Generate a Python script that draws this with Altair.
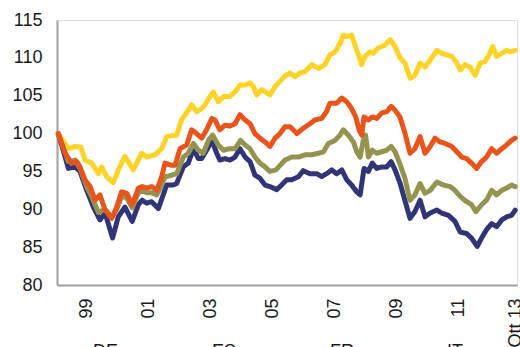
import altair as alt
import pandas as pd

# ---- data (month index 0 = Jan 1999) ----
series_names = ["DE", "ES", "FR", "IT"]
series_colors = ["#2F3577", "#FFD326", "#949450", "#E9541A"]

de_months = [0, 3.9, 6.5, 8.4, 11.0, 13.6, 16.1, 18.1, 21.0, 23.2, 25.8, 28.6, 31.0, 32.5, 34.2, 36.1, 38.7, 40.6, 41.9, 44.5,
             45.8, 48.4, 50.3, 52.3, 54.2, 55.5, 57.4, 59.4, 61.3, 62.5, 64.5, 66.4, 68.4, 70.3, 72.3, 74.2, 76.1, 78.0, 80.0, 81.9, 84.5, 86.4, 88.4,
             90.3, 92.9, 94.8, 97.4, 100.0, 101.9, 103.8, 105.8, 107.7, 109.7, 111.6, 113.5, 115.5, 116.8, 118.3, 120.0, 121.5, 123.2, 125.1, 127.1, 128.8, 130.3, 132.2,
             134.2, 136.1, 138.0, 140.0, 141.9, 143.9, 146.5, 148.4, 151.0, 153.5, 155.5, 158.0, 159.9, 162.1, 163.8, 165.7, 167.7, 169.6, 171.6, 173.5, 175.4, 176.8]
de_values = [100, 95.4, 95.6, 95.0, 92.5, 90.3, 88.6, 89.5, 86.2, 89.0, 90.3, 88.4, 90.6, 91.2, 90.8, 91.0, 90.1, 91.9, 93.2, 93.2,
             93.4, 95.6, 96.1, 98.0, 96.7, 96.7, 97.8, 99.1, 97.4, 96.5, 96.7, 96.5, 96.9, 98.0, 96.9, 96.3, 94.5, 94.1, 93.2, 93.0, 92.6, 93.2, 93.9,
             93.9, 94.3, 95.1, 94.7, 94.7, 94.3, 94.7, 95.2, 94.7, 95.2, 93.9, 93.2, 92.3, 91.9, 95.4, 95.0, 96.1, 95.4, 95.6, 95.6, 96.3, 95.2, 93.5,
             91.1, 88.8, 89.7, 91.2, 89.0, 89.5, 89.9, 89.5, 89.2, 88.4, 87.0, 86.8, 86.2, 85.1, 86.2, 87.3, 88.1, 87.7, 88.6, 89.0, 89.2, 89.9]

es_months = [0, 3.9, 6.5, 8.8, 10.3, 12.9, 15.5, 16.8, 18.7, 21.3, 23.2, 25.8, 29.0, 32.3, 34.2, 37.4, 40.0, 42.0,
             45.8, 47.7, 50.3, 51.6, 53.5, 55.5, 56.8, 58.7, 60.0, 61.9, 63.9, 66.4, 68.4, 70.3, 72.3, 74.2, 75.5, 76.8, 78.7, 81.9, 83.9, 85.8, 87.7,
             89.7, 91.6, 93.5, 95.5, 98.1, 100.6, 103.2, 105.1, 107.1, 109.0, 110.3, 111.6, 113.5, 115.5, 117.4, 118.7, 120.6, 121.9, 123.8, 126.4, 128.4, 130.3, 132.2,
             134.2, 136.1, 138.0, 140.0, 141.9, 143.9, 146.5, 148.4, 150.3, 152.3, 154.2, 155.5, 157.4, 159.3, 161.3, 163.2, 165.1, 166.4, 168.1, 169.6, 171.6, 173.5, 174.8, 176.8]
es_values = [100, 98.0, 98.3, 98.2, 96.5, 96.1, 94.7, 95.6, 94.3, 93.5, 95.2, 97.0, 95.2, 97.4, 96.9, 97.2, 98.0, 99.6,
             99.8, 101.8, 103.1, 103.8, 102.9, 103.3, 103.8, 104.9, 105.5, 104.2, 104.9, 104.9, 105.5, 106.4, 106.4, 106.7, 106.2, 105.1, 105.8, 105.1, 106.2, 106.9, 107.6,
             108.0, 107.5, 108.0, 108.2, 109.1, 108.6, 109.1, 110.4, 110.8, 111.9, 113.0, 112.8, 113.0, 111.0, 109.1, 110.2, 110.8, 110.6, 111.3, 111.7, 112.4, 111.5, 110.0,
             109.3, 107.3, 107.7, 109.3, 108.8, 109.7, 111.0, 110.6, 110.4, 110.2, 109.3, 108.4, 109.1, 108.8, 107.7, 109.3, 109.5, 110.2, 111.5, 110.2, 110.6, 111.0, 110.8, 111.0]

fr_months = [0, 3.9, 6.5, 8.4, 11.0, 12.9, 15.5, 18.1, 20.7, 22.6, 24.5, 26.5, 28.6, 31.0, 32.5, 34.2, 36.1, 38.1, 40.0, 41.3, 43.9,
             45.8, 48.4, 50.3, 52.3, 54.2, 56.1, 58.1, 59.7, 61.9, 63.9, 66.1, 68.4, 70.5, 72.3, 74.2, 76.1, 78.0, 80.0, 81.9, 84.2, 85.8, 87.7,
             90.3, 92.9, 95.5, 98.1, 100.6, 102.6, 104.5, 107.1, 109.0, 110.3, 112.2, 114.2, 115.5, 116.8, 118.0, 118.9, 120.0, 121.5, 123.2, 125.1, 127.1, 128.8, 130.3, 132.2,
             134.2, 136.1, 138.0, 140.0, 141.9, 143.9, 146.5, 149.0, 151.6, 153.5, 155.5, 158.0, 159.9, 161.6, 163.8, 165.7, 167.7, 169.6, 171.6, 173.5, 175.4, 176.8]
fr_values = [100, 96.3, 96.5, 95.4, 93.0, 91.7, 89.6, 90.0, 88.9, 90.0, 91.7, 91.5, 90.2, 92.2, 92.4, 92.2, 92.2, 91.9, 93.2, 94.3, 94.5,
             94.7, 96.9, 97.4, 98.7, 97.8, 97.4, 99.1, 99.8, 98.5, 97.8, 98.0, 98.0, 99.1, 98.5, 98.0, 96.9, 96.1, 95.6, 95.0, 95.2, 95.8, 96.5,
             96.9, 96.9, 97.2, 97.2, 97.4, 97.6, 98.7, 99.1, 99.8, 100.5, 99.8, 98.9, 97.6, 96.9, 99.1, 99.8, 96.9, 97.8, 97.4, 97.6, 97.8, 98.3, 97.6, 96.0,
             94.0, 91.2, 91.9, 93.4, 92.1, 92.5, 93.6, 93.2, 93.0, 92.5, 91.7, 91.0, 90.6, 89.7, 90.6, 91.2, 92.5, 91.9, 92.5, 92.8, 93.2, 93.0]

it_months = [0, 2.6, 5.2, 7.1, 8.4, 10.3, 12.3, 14.2, 16.1, 18.1, 20.7, 22.6, 24.5, 26.5, 28.6, 31.0, 32.5, 34.2, 36.1, 38.1, 40.0, 41.3, 43.9,
             45.2, 47.1, 49.7, 51.6, 53.5, 55.5, 57.4, 59.4, 60.6, 62.5, 64.5, 66.4, 68.4, 70.3, 72.3, 74.2, 76.1, 78.0, 80.0, 81.9, 83.9, 85.8, 87.7,
             89.7, 92.3, 94.8, 97.4, 99.3, 101.9, 103.8, 105.1, 107.7, 109.7, 111.6, 113.5, 115.1, 116.4, 117.4, 118.3, 120.0, 121.5, 123.2, 125.1, 127.1, 128.8, 130.3, 132.2,
             134.2, 136.1, 138.0, 140.0, 141.9, 143.9, 145.8, 147.7, 149.7, 152.3, 154.2, 156.1, 158.0, 159.9, 161.9, 163.8, 165.7, 167.7, 169.6, 171.6, 173.5, 175.4, 176.8]
it_values = [100, 97.4, 96.1, 96.3, 95.6, 93.9, 93.0, 91.2, 91.9, 89.9, 88.8, 90.3, 92.3, 92.1, 90.6, 92.8, 93.0, 92.8, 93.0, 92.5, 94.3, 96.1, 95.8,
             95.8, 98.0, 98.5, 100.5, 100.0, 99.4, 100.5, 102.0, 101.8, 100.5, 101.1, 101.0, 101.3, 102.5, 101.8, 101.3, 100.0, 99.4, 98.9, 98.3, 99.4, 100.0, 100.9,
             100.9, 100.0, 100.7, 101.3, 101.8, 102.0, 102.9, 104.0, 104.0, 104.7, 104.2, 103.3, 102.2, 100.5, 99.8, 102.2, 101.8, 102.2, 102.0, 102.7, 102.9, 103.6, 103.1, 102.2,
             100.0, 97.4, 98.0, 99.6, 97.4, 98.3, 99.4, 98.9, 98.7, 98.3, 97.6, 96.9, 96.7, 96.1, 95.4, 96.3, 96.9, 98.0, 97.4, 98.0, 98.5, 99.1, 99.4]

tick_months = [11, 35, 59, 83, 107, 131, 155, 177]
tick_labels = ["99", "01", "03", "05", "07", "09", "11", "Ott 13"]
y_ticks = [80, 85, 90, 95, 100, 105, 110, 115]

# ---- build long table ----
rows = []
for name, ms, vs in [("DE", de_months, de_values), ("ES", es_months, es_values),
                     ("FR", fr_months, fr_values), ("IT", it_months, it_values)]:
    for m, v in zip(ms, vs):
        rows.append({"serie": name, "mese": m, "valore": v})
df = pd.DataFrame(rows)

label_expr = "".join(f"datum.value == {m} ? '{l}' : " for m, l in zip(tick_months, tick_labels)) + "''"

FONT = "Liberation Sans"

chart = alt.Chart(df).mark_line(strokeWidth=5, strokeJoin="round", strokeCap="round").encode(
    x=alt.X("mese:Q",
            scale=alt.Scale(domain=[-0.5, 177.5], nice=False, zero=False),
            axis=alt.Axis(values=tick_months, labelExpr=label_expr, labelAngle=270,
                          title=None, grid=False, ticks=False, labelPadding=13,
                          labelFontSize=18, labelFont=FONT, labelColor="#1a1a1a",
                          domainColor="#A0A0A0", domainWidth=2)),
    y=alt.Y("valore:Q",
            scale=alt.Scale(domain=[80, 115], nice=False, zero=False),
            axis=alt.Axis(values=y_ticks, title=None, grid=False, ticks=False,
                          labelPadding=15, labelFontSize=18, labelFont=FONT,
                          labelColor="#1a1a1a", domainColor="#A0A0A0", domainWidth=2)),
    color=alt.Color("serie:N",
                    scale=alt.Scale(domain=series_names, range=series_colors),
                    legend=alt.Legend(title=None, orient="none", legendX=-4, legendY=314,
                                      direction="horizontal", columns=4, columnPadding=45,
                                      symbolType="stroke", symbolStrokeWidth=5, symbolSize=900,
                                      labelFontSize=18, labelFont=FONT, labelColor="#1a1a1a",
                                      labelOffset=5)),
    detail="serie:N",
).properties(
    width=460,
    height=265,
    autosize=alt.AutoSizeParams(type="none"),
    padding={"left": 57, "top": 20, "right": 3, "bottom": 80},
).configure_view(stroke=None).configure(background="white")

chart.save("out.html", embed_options={"renderer": "svg", "actions": False})
